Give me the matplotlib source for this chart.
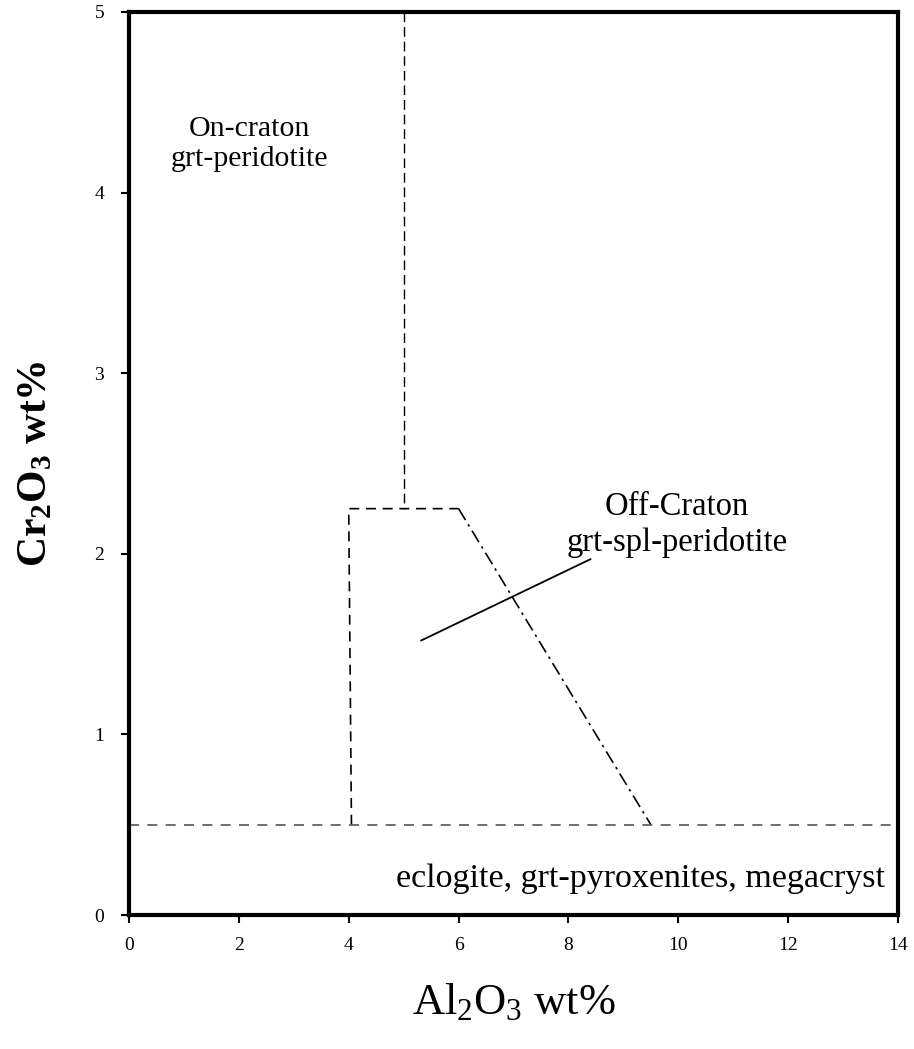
import matplotlib.pyplot as plt

plt.rcParams['font.family'] = ['Liberation Serif', 'DejaVu Serif']
plt.rcParams['mathtext.fontset'] = 'custom'
plt.rcParams['mathtext.rm'] = 'Liberation Serif'
plt.rcParams['mathtext.bf'] = 'Liberation Serif:bold'
plt.rcParams['mathtext.default'] = 'regular'

# field boundaries (Al2O3, Cr2O3)
craton_x = [5.0, 5.0]
craton_y = [5.0, 2.25]
box_x = [4.05, 4.0, 6.0]
box_y = [0.5, 2.25, 2.25]
slope_x = [6.0, 9.5]
slope_y = [2.25, 0.5]
floor_x = [0.0, 14.0]
floor_y = [0.5, 0.5]
pointer_x = [5.32, 8.4]
pointer_y = [1.52, 1.97]

xticks = [0, 2, 4, 6, 8, 10, 12, 14]
yticks = [0, 1, 2, 3, 4, 5]

fig = plt.figure(figsize=(9.14, 10.49), dpi=100)
ax = fig.add_axes([129/914, 1 - 915/1049, 769/914, 903/1049])

ax.plot(craton_x, craton_y, color='black', lw=1, ls=(0, (7, 3.5)))
ax.plot(box_x, box_y, color='black', lw=1.2, ls=(0, (6, 4)))
ax.plot(slope_x, slope_y, color='black', lw=1.2, ls=(0, (8, 3, 1.5, 3)))
ax.plot(floor_x, floor_y, color='#555555', lw=1.2, ls=(0, (6, 5)))
ax.plot(pointer_x, pointer_y, color='black', lw=1.3)

ax.text(2.2, 4.27, 'On-craton\ngrt-peridotite', ha='center', va='center',
        fontsize=21.5, linespacing=1.2)
ax.text(9.98, 2.16, 'Off-Craton\ngrt-spl-peridotite', ha='center', va='center',
        fontsize=23.5, linespacing=1.2)
ax.text(13.77, 0.2, 'eclogite, grt-pyroxenites, megacryst', ha='right',
        va='center', fontsize=24.5)

ax.set_xlim(0, 14)
ax.set_ylim(0, 5)
ax.set_xticks(xticks)
ax.set_yticks(yticks)
ax.tick_params(direction='out', length=6, width=1.5, labelsize=14)
ax.tick_params(axis='x', pad=10)
ax.tick_params(axis='y', pad=12)
for s in ax.spines.values():
    s.set_linewidth(3)

ax.set_xlabel(r'Al$_2$O$_3$ wt%', fontsize=32, labelpad=20)
ax.set_ylabel(r'Cr$_2$O$_3$ wt%', fontsize=30, fontweight='bold', labelpad=28)

fig.savefig('out.png', dpi=100)
